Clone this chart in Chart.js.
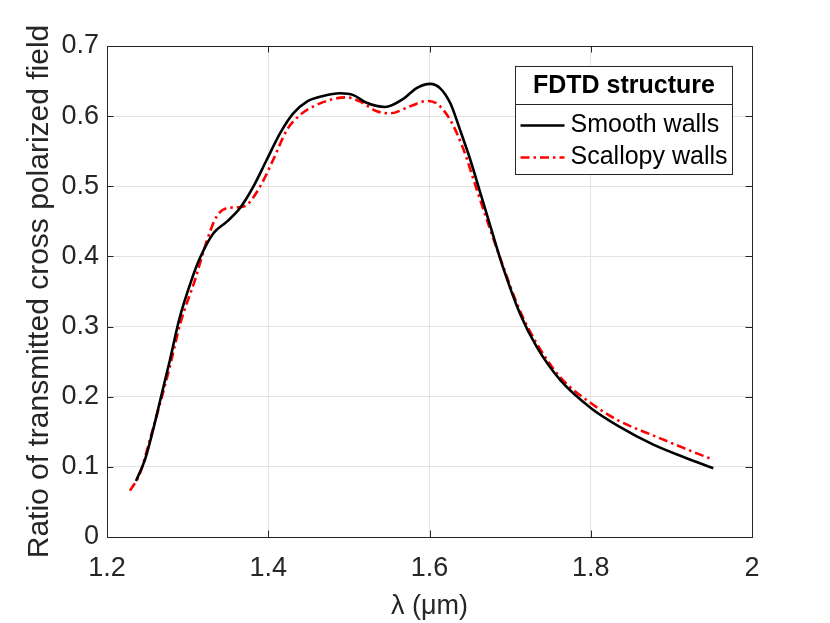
<!DOCTYPE html>
<html>
<head>
<meta charset="utf-8">
<script src="https://cdn.jsdelivr.net/npm/chart.js@4.4.1/dist/chart.umd.min.js"></script>
<style>
    html, body { margin: 0; padding: 0; background: #ffffff; }
    #wrap { width: 830px; height: 623px; position: relative; }
</style>
</head>
<body>
<div id="wrap"><canvas id="fdtdChart"></canvas></div>
<script>
// wavelength (um) and ratio
const smoothLambda = [1.236, 1.247, 1.257, 1.266, 1.278, 1.290, 1.305, 1.315, 1.332, 1.349, 1.365, 1.3815,
    1.398, 1.4146, 1.431, 1.448, 1.468, 1.489, 1.5056, 1.522, 1.545, 1.568, 1.584, 1.601, 1.613, 1.626,
    1.638, 1.650, 1.664, 1.675, 1.691, 1.712, 1.733, 1.762, 1.800, 1.836, 1.877, 1.915, 1.952];
const smoothRatio = [0.080, 0.110, 0.152, 0.195, 0.252, 0.312, 0.367, 0.397, 0.433, 0.450, 0.469, 0.4995,
    0.5375, 0.5755, 0.604, 0.6207, 0.6287, 0.6326, 0.630, 0.619, 0.613, 0.625, 0.640, 0.646, 0.640, 0.618,
    0.580, 0.540, 0.487, 0.445, 0.385, 0.319, 0.271, 0.224, 0.184, 0.157, 0.132, 0.114, 0.098];

const scallopLambda = [1.2285, 1.241, 1.253, 1.266, 1.278, 1.291, 1.309, 1.315, 1.324, 1.336, 1.349, 1.362,
    1.373, 1.3898, 1.406, 1.423, 1.4395, 1.460, 1.481, 1.497, 1.514, 1.5346, 1.551, 1.576, 1.597, 1.609,
    1.626, 1.642, 1.659, 1.673, 1.691, 1.712, 1.733, 1.762, 1.800, 1.836, 1.877, 1.915, 1.952];
const scallopRatio = [0.066, 0.091, 0.138, 0.191, 0.243, 0.305, 0.366, 0.389, 0.423, 0.457, 0.469, 0.470,
    0.473, 0.4995, 0.5375, 0.580, 0.6017, 0.616, 0.6245, 0.6268, 0.6207, 0.607, 0.604, 0.614, 0.6216, 0.618,
    0.594, 0.553, 0.494, 0.446, 0.387, 0.323, 0.276, 0.228, 0.191, 0.165, 0.145, 0.127, 0.110];

const seriesLabels = ['Smooth walls', 'Scallopy walls'];
const legendTitle = 'FDTD structure';
const xTicks = [1.2, 1.4, 1.6, 1.8, 2.0];
const yTicks = [0, 0.1, 0.2, 0.3, 0.4, 0.5, 0.6, 0.7];

const axisColor = '#262626';
const gridColor = '#e3e3e3';
const fontFamily = '"Liberation Sans", Arial, Helvetica, sans-serif';

function toPoints(xs, ys) {
    return xs.map((x, i) => ({ x: x, y: ys[i] }));
}

// matlab-like box with inward ticks
const boxPlugin = {
    id: 'boxPlugin',
    afterDatasetsDraw(chart) {
        const { ctx, chartArea: a, scales } = chart;
        const len = 6.5;
        ctx.save();
        ctx.strokeStyle = axisColor;
        ctx.lineWidth = 1;
        ctx.beginPath();
        xTicks.forEach(v => {
            const px = Math.round(scales.x.getPixelForValue(v)) + 0.5;
            ctx.moveTo(px, a.bottom); ctx.lineTo(px, a.bottom - len);
            ctx.moveTo(px, a.top); ctx.lineTo(px, a.top + len);
        });
        yTicks.forEach(v => {
            const py = Math.round(scales.y.getPixelForValue(v)) + 0.5;
            ctx.moveTo(a.left, py); ctx.lineTo(a.left + len, py);
            ctx.moveTo(a.right, py); ctx.lineTo(a.right - len, py);
        });
        ctx.stroke();
        ctx.strokeRect(Math.round(a.left) + 0.5, Math.round(a.top) + 0.5,
            Math.round(a.right - a.left), Math.round(a.bottom - a.top));
        ctx.restore();
    }
};

// legend box with a title row
const legendBoxPlugin = {
    id: 'legendBoxPlugin',
    afterDraw(chart) {
        const { ctx, chartArea: a } = chart;
        const w = 217, h = 108, titleH = 38, rowH = 32;
        const left = Math.round(a.right - 20 - w) + 0.5;
        const top = Math.round(a.top + 20) + 0.5;
        ctx.save();
        ctx.fillStyle = '#ffffff';
        ctx.fillRect(left, top, w, h);
        ctx.strokeStyle = axisColor;
        ctx.lineWidth = 1;
        ctx.strokeRect(left, top, w, h);
        ctx.beginPath();
        ctx.moveTo(left, top + titleH);
        ctx.lineTo(left + w, top + titleH);
        ctx.stroke();

        ctx.fillStyle = '#000000';
        ctx.textBaseline = 'middle';
        ctx.textAlign = 'center';
        ctx.font = 'bold 25px ' + fontFamily;
        ctx.fillText(legendTitle, left + w / 2, top + 20);

        ctx.textAlign = 'left';
        ctx.font = '25px ' + fontFamily;
        chart.data.datasets.forEach((ds, i) => {
            const y = top + titleH + 21 + i * rowH;
            ctx.save();
            ctx.strokeStyle = ds.borderColor;
            ctx.lineWidth = ds.borderWidth;
            ctx.setLineDash(ds.borderDash || []);
            ctx.beginPath();
            ctx.moveTo(left + 5, y);
            ctx.lineTo(left + 49, y);
            ctx.stroke();
            ctx.restore();
            ctx.fillText(ds.label, left + 55, y);
        });
        ctx.restore();
    }
};

const fmt = v => Number(v.toFixed(1)).toString();

new Chart(document.getElementById('fdtdChart').getContext('2d'), {
    type: 'scatter',
    data: {
        datasets: [{
            label: seriesLabels[0],
            data: toPoints(smoothLambda, smoothRatio),
            showLine: true,
            borderColor: '#000000',
            borderWidth: 2.6,
            pointRadius: 0,
            cubicInterpolationMode: 'monotone'
        }, {
            label: seriesLabels[1],
            data: toPoints(scallopLambda, scallopRatio),
            showLine: true,
            borderColor: '#ff0000',
            borderWidth: 2.6,
            borderDash: [9, 4, 2.5, 4],
            pointRadius: 0,
            cubicInterpolationMode: 'monotone'
        }]
    },
    options: {
        responsive: true,
        maintainAspectRatio: false,
        animation: false,
        layout: { padding: { left: 0, right: 78, top: 46, bottom: 0 } },
        plugins: {
            legend: { display: false },
            tooltip: { enabled: false }
        },
        scales: {
            x: {
                type: 'linear',
                min: 1.2,
                max: 2.0,
                afterBuildTicks: scale => { scale.ticks = xTicks.map(v => ({ value: v })); },
                afterFit: scale => { scale.height = 86; },
                ticks: {
                    callback: fmt,
                    color: axisColor,
                    font: { family: fontFamily, size: 27 },
                    padding: 15,
                    maxRotation: 0
                },
                grid: { color: gridColor, drawTicks: false },
                border: { display: false },
                title: {
                    display: true,
                    text: 'λ (μm)',
                    color: axisColor,
                    font: { family: fontFamily, size: 27 },
                    padding: { top: 0, bottom: 0 }
                }
            },
            y: {
                type: 'linear',
                min: 0,
                max: 0.7,
                afterBuildTicks: scale => { scale.ticks = yTicks.map(v => ({ value: v })); },
                afterFit: scale => { scale.width = 107; },
                ticks: {
                    callback: fmt,
                    color: axisColor,
                    font: { family: fontFamily, size: 27 },
                    padding: 8
                },
                grid: { color: gridColor, drawTicks: false },
                border: { display: false },
                title: {
                    display: true,
                    text: 'Ratio of transmitted cross polarized field',
                    color: axisColor,
                    font: { family: fontFamily, size: 30 },
                    padding: { top: 22, bottom: 0 }
                }
            }
        }
    },
    plugins: [boxPlugin, legendBoxPlugin]
});
</script>
</body>
</html>
